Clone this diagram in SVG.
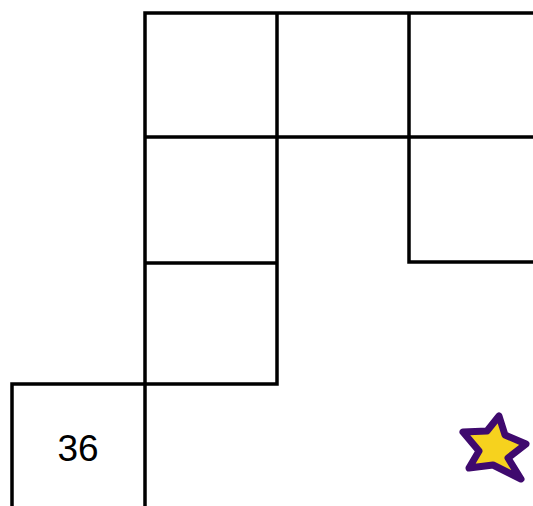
<svg xmlns="http://www.w3.org/2000/svg" width="533" height="506" viewBox="0 0 533 506">
<style>
.g{fill:none;stroke:#000;stroke-width:3.5;stroke-linecap:square}
.t{font-family:"Liberation Sans",Arial,sans-serif;font-size:37px;fill:#000}
</style>
<rect width="533" height="506" fill="#fff"/>
<g id="grid">
<path class="g" d="M145,13H533 M145,137H533 M145,263H277 M409,262H533 M12,384H277 M145,13V506 M277,13V384 M409,13V262 M12,384V506"/>
</g>
<g id="cell36">
<text class="t" x="78" y="461" text-anchor="middle">36</text>
</g>
<g id="star">
<polygon points="499,416 505,435 526,444 508,458 521,479 493,465 469,468 479,451 463,432 487,431" fill="#f6d21e" stroke="#3f0a6e" stroke-width="7" stroke-linejoin="round"/>
</g>
</svg>
